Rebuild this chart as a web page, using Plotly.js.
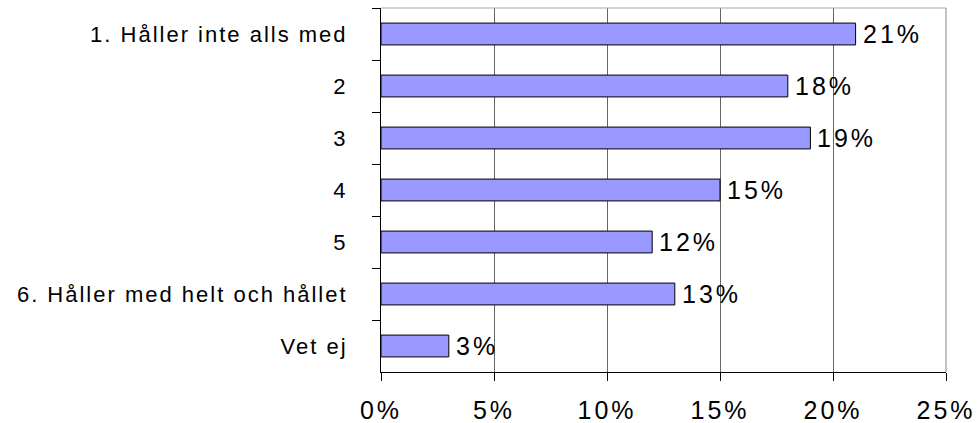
<!DOCTYPE html>
<html>
<head>
<meta charset="utf-8">
<script src="https://cdn.plot.ly/plotly-3.0.1.min.js"></script>
<style>
  html, body { margin: 0; padding: 0; background: #fff; }
  #chart { width: 977px; height: 423px; }
  .ytick text { letter-spacing: 2px; }
  .xtick text, .annotation-text { letter-spacing: 3px; }
</style>
</head>
<body>
<div id="chart"></div>
<script>
const categories = [
  "1. Håller inte alls med",
  "2",
  "3",
  "4",
  "5",
  "6. Håller med helt och hållet",
  "Vet ej"
];
const percents = [21, 18, 19, 15, 12, 13, 3];
const tickValues = [0, 5, 10, 15, 20, 25];
const tickLabels = ["0%", "5%", "10%", "15%", "20%", "25%"];

const font = "Liberation Sans, Arial, sans-serif";

const trace = {
  type: "bar",
  orientation: "h",
  y: categories,
  x: percents,
  marker: { color: "#9999ff", line: { color: "#000", width: 1 } },
  hoverinfo: "skip"
};

// value labels just right of each bar end (y by category index,
// since names like "2" would be read as an index)
const labels = percents.map((v, i) => ({
  x: v,
  y: i,
  xref: "x",
  yref: "y",
  text: v + "%",
  showarrow: false,
  xanchor: "left",
  yanchor: "middle",
  xshift: 5,
  font: { family: font, size: 25, color: "#000" }
}));

const layout = {
  width: 977,
  height: 423,
  margin: { l: 381, r: 31, t: 8, b: 51 },
  paper_bgcolor: "#ffffff",
  plot_bgcolor: "#ffffff",
  bargap: 0.58,
  showlegend: false,
  font: { family: font, color: "#000" },
  xaxis: {
    range: [0, 25],
    tickvals: tickValues,
    ticktext: tickLabels,
    tickfont: { family: font, size: 25, color: "#000" },
    ticks: "outside",
    ticklen: 8,
    tickcolor: "#000",
    ticklabelstandoff: 8,
    showgrid: true,
    gridcolor: "#666",
    gridwidth: 1,
    showline: true,
    linecolor: "#000",
    linewidth: 1,
    zeroline: false,
    fixedrange: true
  },
  yaxis: {
    type: "category",
    autorange: "reversed",
    tickfont: { family: font, size: 22, color: "#000" },
    ticks: "outside",
    tickson: "boundaries",
    ticklen: 8,
    tickcolor: "#000",
    ticklabelstandoff: 28,
    showgrid: false,
    showline: true,
    linecolor: "#000",
    linewidth: 1,
    zeroline: false,
    fixedrange: true
  },
  annotations: labels,
  shapes: [
    {
      type: "line", xref: "paper", yref: "paper",
      x0: 0, x1: 1, y0: 1, y1: 1,
      line: { color: "#aaa", width: 1 }
    },
    {
      type: "line", xref: "paper", yref: "paper",
      x0: 1, x1: 1, y0: 0, y1: 1,
      line: { color: "#888", width: 1 }
    }
  ]
};

Plotly.newPlot("chart", [trace], layout, { displayModeBar: false, staticPlot: true });
</script>
</body>
</html>
